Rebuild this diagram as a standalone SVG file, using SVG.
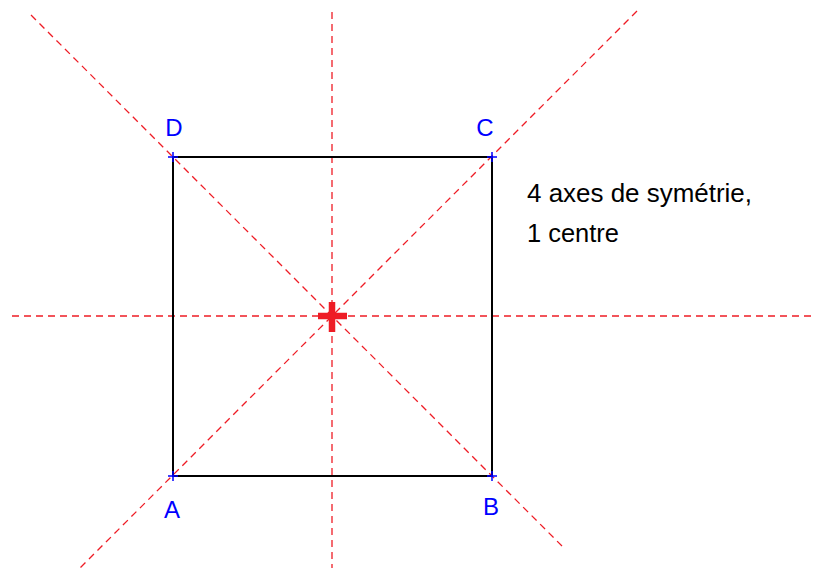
<svg xmlns="http://www.w3.org/2000/svg" width="813" height="573" viewBox="0 0 813 573">
<style>
.axis{stroke:#ee1c25;stroke-width:1.3;stroke-dasharray:7 5;fill:none}
.side{stroke:#000;stroke-width:2;fill:none}
.tick{stroke:#0000ff;stroke-width:1.5}
.lbl{font-family:"Liberation Sans",Arial,sans-serif;font-size:24px;fill:#0000ff;text-anchor:middle}
.note{font-family:"Liberation Sans",Arial,sans-serif;font-size:25px;fill:#000}
</style>
<rect width="813" height="573" fill="#fff"/>
<g id="connectors">
<line class="axis" x1="31" y1="15" x2="562" y2="546"/>
<line class="axis" x1="637" y1="11" x2="78" y2="570"/>
<line class="axis" x1="332" y1="12" x2="332" y2="568"/>
<line class="axis" x1="12" y1="316" x2="812" y2="316"/>
</g>
<g id="square">
<rect class="side" x="173" y="157" width="319" height="319"/>
</g>
<g id="A"><path class="tick" d="M168 476H178M173 471V481"/><text class="lbl" x="172" y="518">A</text></g>
<g id="B"><path class="tick" d="M487 476H497M492 471V481"/><text class="lbl" x="491" y="515">B</text></g>
<g id="C"><path class="tick" d="M487 157H497M492 152V162"/><text class="lbl" x="485" y="136">C</text></g>
<g id="D"><path class="tick" d="M168 157H178M173 152V162"/><text class="lbl" x="174" y="136">D</text></g>
<g id="centre"><path d="M318 316H347M332 302V332" stroke="#ee1c25" stroke-width="6.5"/></g>
<g id="note">
<text class="note" x="527" y="202" textLength="225" lengthAdjust="spacingAndGlyphs">4 axes de symétrie,</text>
<text class="note" x="527" y="242" textLength="92" lengthAdjust="spacingAndGlyphs">1 centre</text>
</g>
</svg>
